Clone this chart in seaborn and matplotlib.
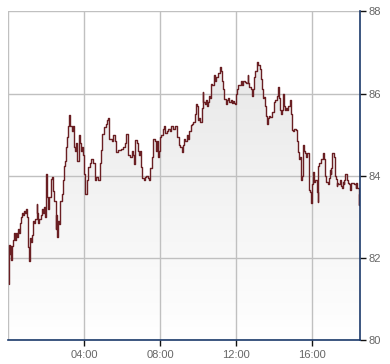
import numpy as np
import pandas as pd
import matplotlib
matplotlib.use("Agg")
import matplotlib.pyplot as plt
import seaborn as sns

# time of day in minutes since 00:00
minutes = [2, 3, 5, 8, 10, 13, 16, 20, 23, 26, 29, 32, 35, 39, 42, 45, 48, 51, 54, 57,
           61, 63, 65, 69, 72, 75, 79, 82, 85, 90, 93, 96, 99, 103, 106, 110, 114, 116, 121, 124,
           126, 129, 135, 139, 142, 145, 150, 153, 155, 158, 161, 163, 169, 174, 177, 181, 182, 185, 189, 194,
           197, 202, 205, 208, 213, 216, 219, 223, 226, 230, 234, 237, 240, 244, 248, 253, 258, 263, 268, 274,
           279, 284, 290, 295, 298, 303, 309, 314, 317, 320, 324, 328, 333, 337, 342, 347, 353, 358, 363, 369,
           374, 379, 384, 390, 395, 398, 402, 406, 411, 414, 417, 421, 424, 428, 432, 437, 442, 445, 448, 453,
           456, 459, 463, 467, 471, 474, 477, 481, 484, 488, 492, 497, 501, 505, 511, 516, 521, 526, 532, 535,
           539, 543, 548, 552, 556, 560, 564, 568, 572, 577, 581, 585, 590, 593, 596, 600, 603, 606, 611, 614,
           617, 621, 624, 627, 632, 635, 638, 642, 645, 649, 653, 658, 663, 668, 671, 674, 678, 682, 687, 691,
           695, 699, 703, 706, 710, 713, 716, 719, 722, 726, 731, 735, 739, 743, 747, 752, 756, 758, 762, 766,
           771, 774, 777, 781, 785, 789, 794, 798, 802, 805, 808, 812, 815, 818, 821, 824, 827, 832, 836, 840,
           844, 849, 853, 856, 859, 862, 865, 868, 872, 875, 879, 882, 885, 890, 893, 897, 900, 904, 909, 911,
           915, 918, 921, 925, 928, 932, 935, 938, 942, 945, 949, 953, 956, 959, 962, 965, 969, 974, 977, 980,
           983, 987, 990, 993, 996, 999, 1002, 1005, 1009, 1012, 1015, 1018, 1021, 1024, 1028, 1031, 1034, 1037, 1040, 1043,
           1047, 1050, 1053, 1056, 1059, 1062, 1065, 1069, 1072, 1075, 1078, 1081, 1084, 1088, 1091, 1094, 1097, 1100, 1103, 1107,
           1108]

prices = [81.37, 82.31, 82.10, 82.30, 81.95, 82.30, 82.45, 82.60, 82.45, 82.60, 82.50, 82.70, 82.60, 82.85, 83.00, 83.10, 83.05, 83.15, 83.10, 83.20,
          83.00, 82.27, 81.94, 82.48, 82.40, 82.55, 82.91, 82.85, 82.95, 83.32, 83.10, 82.85, 82.95, 83.05, 83.20, 83.10, 83.25, 83.00, 84.05, 83.48,
          83.20, 83.48, 83.93, 83.97, 83.64, 83.38, 82.71, 83.05, 82.51, 82.91, 82.82, 83.38, 83.56, 83.89, 84.25, 84.37, 84.70, 84.95, 85.20, 85.47,
          85.20, 85.10, 85.20, 84.70, 84.60, 84.80, 84.37, 85.00, 84.80, 84.60, 84.70, 84.50, 84.05, 83.55, 83.89, 84.21, 84.30, 84.40, 84.30, 83.90,
          83.97, 83.90, 84.30, 84.62, 85.02, 85.18, 85.25, 85.35, 85.40, 84.90, 84.90, 84.85, 85.00, 84.85, 84.58, 84.62, 84.62, 84.65, 84.70, 84.80,
          85.02, 84.50, 84.45, 84.60, 84.50, 84.29, 84.86, 84.80, 84.60, 84.50, 84.60, 84.21, 83.95, 83.90, 83.97, 84.00, 83.95, 83.90, 84.20, 84.20,
          84.45, 84.90, 84.85, 84.60, 84.85, 84.45, 84.60, 84.94, 85.00, 85.15, 85.20, 85.05, 85.10, 85.15, 85.10, 85.20, 85.15, 85.20, 85.15, 84.95,
          84.75, 84.70, 84.57, 84.75, 84.90, 84.85, 85.00, 84.90, 85.08, 85.23, 85.25, 85.30, 85.51, 85.75, 85.70, 85.35, 85.40, 85.30, 85.65, 86.04,
          85.80, 85.75, 85.85, 85.70, 85.80, 85.95, 85.90, 86.24, 86.20, 86.44, 86.30, 86.40, 86.50, 86.64, 86.55, 86.30, 86.10, 85.86, 85.75, 85.85,
          85.88, 85.80, 85.84, 85.78, 85.82, 85.78, 85.75, 86.00, 86.10, 86.20, 86.22, 86.30, 86.20, 86.30, 86.28, 86.25, 86.45, 86.25, 86.15, 86.10,
          85.95, 86.10, 86.40, 86.56, 86.77, 86.70, 86.60, 86.35, 86.10, 85.90, 85.92, 85.70, 85.45, 85.27, 85.40, 85.45, 85.42, 85.55, 85.55, 85.80,
          85.85, 85.95, 86.16, 85.90, 85.60, 85.50, 85.60, 86.00, 85.70, 85.60, 85.65, 85.60, 85.70, 85.84, 85.50, 85.12, 85.10, 85.15, 85.12, 84.85,
          84.57, 84.40, 84.45, 83.90, 84.00, 84.75, 84.60, 84.55, 84.45, 84.55, 83.65, 83.60, 83.35, 83.80, 84.10, 83.85, 83.90, 83.60, 83.37, 84.23,
          84.30, 84.40, 84.42, 84.55, 84.50, 84.40, 84.00, 83.85, 83.80, 83.95, 84.15, 84.05, 84.20, 84.55, 84.45, 84.00, 83.92, 83.75, 83.82, 83.80,
          83.90, 83.75, 83.70, 83.85, 83.80, 83.90, 84.05, 83.90, 83.82, 83.80, 83.70, 83.65, 83.83, 83.83, 83.80, 83.80, 83.70, 83.83, 83.70, 83.30,
          83.55]

x_ticks = [240, 480, 720, 960]
x_tick_labels = ["04:00", "08:00", "12:00", "16:00"]
y_ticks = [80, 82, 84, 86, 88]

df = pd.DataFrame({"minute": minutes, "price": prices})

sns.set_style("white")
plt.rcParams["font.family"] = ["Liberation Sans", "DejaVu Sans"]

fig = plt.figure(figsize=(3.9, 3.64), dpi=100)
ax = fig.add_axes([8 / 390, (364 - 340.3) / 364, (360.3 - 8) / 390, (340.3 - 11.3) / 364])

xmin, xmax = 0, 1112
ymin, ymax = 80, 88
ax.set_xlim(xmin, xmax)
ax.set_ylim(ymin, ymax)

# gradient area under the line
poly = ax.fill_between(df["minute"], df["price"], ymin, color="none", lw=0, step="post")
grad = np.linspace(0, 1, 256).reshape(-1, 1)
cmap = matplotlib.colors.LinearSegmentedColormap.from_list("g", ["#e4e4e4", "#ffffff"])
im = ax.imshow(grad, cmap=cmap, aspect="auto", extent=[xmin, xmax, ymin, ymax],
               origin="upper", zorder=1, interpolation="bilinear")
im.set_clip_path(poly.get_paths()[0], transform=ax.transData)

sns.lineplot(data=df, x="minute", y="price", ax=ax, color="#6a1f23", lw=1.0,
             estimator=None, sort=False, zorder=3, drawstyle="steps-post")

# grid
for t in [0] + x_ticks:
    ax.axvline(t, color="#c0c0c0", lw=1.0, zorder=2)
for v in y_ticks:
    ax.axhline(v, color="#c0c0c0", lw=1.0, zorder=2)

ax.set_xticks(x_ticks)
ax.set_xticklabels(x_tick_labels)
ax.set_yticks(y_ticks)
ax.set_yticklabels([str(v) for v in y_ticks])
ax.yaxis.tick_right()
ax.tick_params(axis="both", direction="out", length=4, width=1, color="#111111",
               labelcolor="#666666", labelsize=8)
ax.tick_params(axis="x", pad=3, bottom=True)
ax.tick_params(axis="y", pad=2, right=True, left=False)

ax.set_xlabel("")
ax.set_ylabel("")
for s in ["top", "left"]:
    ax.spines[s].set_visible(False)
for s in ["bottom", "right"]:
    ax.spines[s].set_visible(True)
    ax.spines[s].set_color("#1b3a6b")
    ax.spines[s].set_linewidth(1.2)
    ax.spines[s].set_zorder(4)

fig.savefig("out.png", dpi=100, facecolor="white")
